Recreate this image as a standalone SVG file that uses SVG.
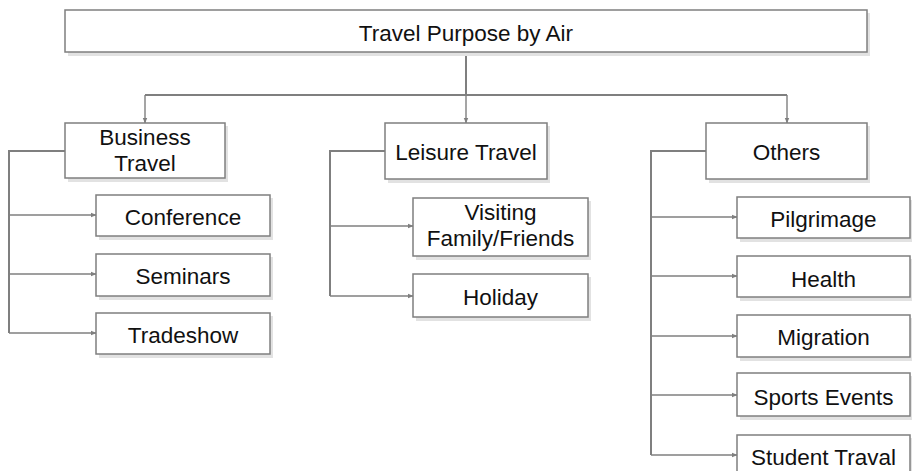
<svg xmlns="http://www.w3.org/2000/svg" width="912" height="471" viewBox="0 0 912 471">
  <defs>
    <marker id="arrow" markerWidth="6" markerHeight="6" refX="5.5" refY="3" orient="auto" markerUnits="userSpaceOnUse">
      <path d="M0,0.6 L6,3 L0,5.4 Z" fill="#7f7f7f"/>
    </marker>
  </defs>
  <style>
    .box { fill: #ffffff; stroke: #7f7f7f; stroke-width: 1.5; }
    .shadow { fill: #e2e2e2; stroke: none; }
    .lbl { font-family: "Liberation Sans", Arial, sans-serif; font-size: 22.5px; fill: #111111; text-anchor: middle; }
    .trunk { fill: none; stroke: #7f7f7f; stroke-width: 2; }
    .link { fill: none; stroke: #7f7f7f; stroke-width: 1.4; marker-end: url(#arrow); }
  </style>
  <rect width="912" height="471" fill="#ffffff"/>

  <!-- connectors -->
  <g id="connectors">
    <!-- root to first level -->
    <path class="trunk" d="M466,52 V95 M145,95 H787"/>
    <path class="link" d="M145,95 V123"/>
    <path class="link" d="M466,95 V123"/>
    <path class="link" d="M787,95 V123"/>
    <!-- business travel branch -->
    <path class="trunk" d="M65,151 H9 V333"/>
    <path class="link" d="M9,215 H96"/>
    <path class="link" d="M9,274 H96"/>
    <path class="link" d="M9,333 H96"/>
    <!-- leisure travel branch -->
    <path class="trunk" d="M385,151 H330 V296"/>
    <path class="link" d="M330,226 H413"/>
    <path class="link" d="M330,296 H413"/>
    <!-- others branch -->
    <path class="trunk" d="M706,151 H651 V455"/>
    <path class="link" d="M651,217 H737"/>
    <path class="link" d="M651,276 H737"/>
    <path class="link" d="M651,336 H737"/>
    <path class="link" d="M651,395 H737"/>
    <path class="link" d="M651,455 H737"/>
  </g>

  <g id="root">
    <rect class="shadow" x="68" y="13" width="802" height="43"/>
    <rect class="box" x="65" y="10" width="802" height="42"/>
    <text class="lbl" x="466" y="41">Travel Purpose by Air</text>
  </g>

  <g id="business-travel">
    <rect class="shadow" x="68" y="126" width="160" height="56"/>
    <rect class="box" x="65" y="123" width="160" height="55"/>
    <text class="lbl" x="145" y="145">Business</text>
    <text class="lbl" x="145" y="171">Travel</text>
  </g>
  <g id="conference">
    <rect class="shadow" x="99" y="198" width="174" height="42"/>
    <rect class="box" x="96" y="195" width="174" height="41"/>
    <text class="lbl" x="183" y="225">Conference</text>
  </g>
  <g id="seminars">
    <rect class="shadow" x="99" y="257" width="174" height="43"/>
    <rect class="box" x="96" y="254" width="174" height="42"/>
    <text class="lbl" x="183" y="284">Seminars</text>
  </g>
  <g id="tradeshow">
    <rect class="shadow" x="99" y="316" width="174" height="42"/>
    <rect class="box" x="96" y="313" width="174" height="41"/>
    <text class="lbl" x="183" y="343">Tradeshow</text>
  </g>

  <g id="leisure-travel">
    <rect class="shadow" x="388" y="126" width="162" height="57"/>
    <rect class="box" x="385" y="123" width="162" height="56"/>
    <text class="lbl" x="466" y="160">Leisure Travel</text>
  </g>
  <g id="visiting">
    <rect class="shadow" x="416" y="201" width="175" height="59"/>
    <rect class="box" x="413" y="198" width="175" height="58"/>
    <text class="lbl" x="500.5" y="220">Visiting</text>
    <text class="lbl" x="500.5" y="246">Family/Friends</text>
  </g>
  <g id="holiday">
    <rect class="shadow" x="416" y="277" width="175" height="44"/>
    <rect class="box" x="413" y="274" width="175" height="43"/>
    <text class="lbl" x="500.5" y="305">Holiday</text>
  </g>

  <g id="others">
    <rect class="shadow" x="709" y="126" width="161" height="57"/>
    <rect class="box" x="706" y="123" width="161" height="56"/>
    <text class="lbl" x="786.5" y="160">Others</text>
  </g>
  <g id="pilgrimage">
    <rect class="shadow" x="740" y="200" width="174" height="42"/>
    <rect class="box" x="737" y="197" width="173" height="41"/>
    <text class="lbl" x="823.5" y="227">Pilgrimage</text>
  </g>
  <g id="health">
    <rect class="shadow" x="740" y="259" width="174" height="42"/>
    <rect class="box" x="737" y="256" width="173" height="41"/>
    <text class="lbl" x="823.5" y="287">Health</text>
  </g>
  <g id="migration">
    <rect class="shadow" x="740" y="318" width="174" height="43"/>
    <rect class="box" x="737" y="315" width="173" height="42"/>
    <text class="lbl" x="823.5" y="345">Migration</text>
  </g>
  <g id="sports-events">
    <rect class="shadow" x="740" y="376" width="174" height="44"/>
    <rect class="box" x="737" y="373" width="173" height="43"/>
    <text class="lbl" x="823.5" y="405">Sports Events</text>
  </g>
  <g id="student-travel">
    <rect class="shadow" x="740" y="438" width="174" height="44"/>
    <rect class="box" x="737" y="435" width="173" height="43"/>
    <text class="lbl" x="823.5" y="465">Student Traval</text>
  </g>
</svg>
